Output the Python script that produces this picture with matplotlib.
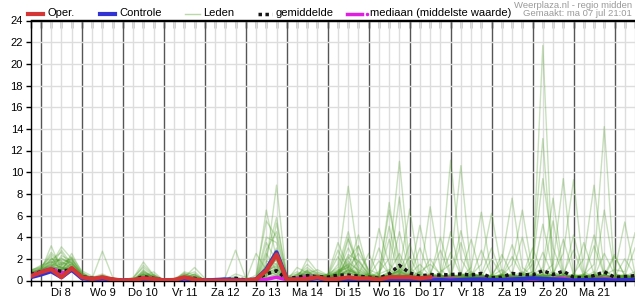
import numpy as np
import pandas as pd
import matplotlib
matplotlib.use('Agg')
import matplotlib.pyplot as plt
import matplotlib.dates as mdates
from matplotlib.lines import Line2D

plt.rcParams['font.family'] = ['Liberation Sans', 'DejaVu Sans']

# 6-uurs stappen: ma 7 jul 18:00 t/m di 22 jul 12:00
tijden = pd.date_range('2025-07-07 18:00', periods=60, freq='6h')
dag_datums = pd.date_range('2025-07-08', periods=14, freq='D')
dag_labels = ['Di 8', 'Wo 9', 'Do 10', 'Vr 11', 'Za 12', 'Zo 13', 'Ma 14',
              'Di 15', 'Wo 16', 'Do 17', 'Vr 18', 'Za 19', 'Zo 20', 'Ma 21']

# neerslag (mm) per 6 uur
oper = [0.4, 0.75, 1.05, 0.3, 1.15, 0.3, 0.15, 0.3, 0.1, 0.0,
        0.05, 0.2, 0.15, 0.02, 0.05, 0.3, 0.1, 0.0, 0.0, 0.0,
        0.0, 0.0, 0.1, 0.9, 2.4, 0.1, 0.1, 0.15, 0.3, 0.1,
        0.15, 0.3, 0.2, 0.2, 0.1, 0.3, 0.3, 0.3, 0.2, 0.3]
controle = [0.3, 0.55, 0.85, 0.3, 1.0, 0.2, 0.1, 0.2, 0.05, 0.0,
            0.0, 0.1, 0.1, 0.0, 0.0, 0.2, 0.05, 0.0, 0.05, 0.1,
            0.05, 0.0, 0.1, 1.0, 2.6, 0.1, 0.05, 0.1, 0.2, 0.05,
            0.05, 0.1, 0.1, 0.05, 0.0, 0.0, 0.05, 0.1, 0.0, 0.0,
            0.05, 0.0, 0.05, 0.1, 0.1, 0.05, 0.05, 0.1, 0.15, 0.2,
            0.15, 0.1, 0.05, 0.0, 0.05, 0.05, 0.05, 0.0, 0.05, 0.05]
gemiddelde = [0.55, 0.8, 1.0, 0.85, 1.0, 0.35, 0.2, 0.25, 0.1, 0.02,
              0.05, 0.35, 0.2, 0.02, 0.05, 0.2, 0.2, 0.02, 0.02, 0.05,
              0.2, 0.05, 0.15, 0.6, 0.9, 0.15, 0.3, 0.45, 0.35, 0.3,
              0.5, 0.5, 0.4, 0.3, 0.2, 0.6, 1.4, 0.7, 0.4, 0.55,
              0.5, 0.55, 0.6, 0.5, 0.65, 0.25, 0.3, 0.65, 0.55, 0.5,
              0.9, 0.55, 0.85, 0.3, 0.25, 0.45, 0.8, 0.3, 0.35, 0.45]
mediaan = [0.5, 0.8, 1.1, 0.7, 0.95, 0.3, 0.1, 0.15, 0.0, 0.0,
           0.0, 0.25, 0.15, 0.0, 0.0, 0.1, 0.1, 0.0, 0.0, 0.0,
           0.0, 0.0, 0.0, 0.1, 0.3, 0.05, 0.2, 0.35, 0.25, 0.15,
           0.2, 0.15, 0.1, 0.1, 0.05, 0.15, 0.2, 0.1, 0.15, 0.2,
           0.1, 0.15, 0.1, 0.05, 0.15, 0.05, 0.05, 0.15, 0.1, 0.05,
           0.1, 0.15, 0.2, 0.05, 0.05, 0.1, 0.15, 0.1, 0.05, 0.1]

leden = [
    "0.6 0.9 3.2 1.0 1.2 0.4 0.1 0.0 0.0 0.0 0.1 0.5 0.2 0.0 0.0 0.3 0.1 0.0 0.0 0.0 0.2 0.0 0.0 1.5 8.8 0.2 0.3 0.8 0.3 "
    "0.3 1.5 8.7 2.0 0.5 0.2 0.4 1.0 0.3 0.2 0.5 0.3 0.1 0.4 0.8 0.2 0.0 0.3 0.5 0.2 0.1 1.0 0.4 0.2 0.0 0.3 0.6 0.2 0.1 0.4 0.3",
    "0.8 1.0 1.5 3.1 2.0 0.5 0.2 2.7 0.3 0.0 0.0 0.2 0.1 0.0 0.0 0.1 0.0 0.0 0.0 0.0 0.0 0.0 0.1 6.5 2.0 0.1 0.5 1.2 0.5 "
    "0.5 0.8 1.2 2.5 1.0 0.6 6.5 2.0 0.4 0.8 0.3 0.2 0.5 0.3 0.2 0.6 0.1 0.2 0.4 0.8 0.3 0.5 0.2 0.6 0.2 0.1 0.4 0.9 0.3 0.2 0.5",
    "0.5 0.7 1.2 2.8 1.5 0.3 0.0 0.5 0.1 0.0 0.2 1.7 0.5 0.0 0.0 0.0 0.0 0.0 0.0 0.3 2.8 0.2 0.0 0.3 5.3 0.5 0.2 0.5 0.2 "
    "0.2 0.4 3.8 1.5 0.3 0.8 2.0 11.0 1.2 0.3 0.2 0.5 0.3 0.1 0.6 0.4 0.2 0.3 0.2 0.5 0.8 0.3 0.1 0.2 0.5 0.3 0.2 0.4 0.1 0.3 0.6",
    "0.9 1.3 2.2 0.8 2.5 0.7 0.3 0.2 0.0 0.0 0.0 0.8 0.3 0.0 0.2 0.6 0.4 0.1 0.0 0.0 0.0 0.0 2.5 1.0 0.5 0.0 0.1 2.0 0.8 "
    "0.4 2.8 1.0 0.5 0.3 4.8 1.5 0.6 0.3 5.1 0.8 0.2 0.4 0.3 1.2 6.3 0.5 0.2 0.3 0.6 0.2 0.4 0.8 0.3 0.2 0.5 0.3 0.2 0.6 0.4 0.2",
    "0.7 1.1 1.8 1.2 1.0 0.2 0.1 0.3 0.0 0.0 0.3 1.2 0.4 0.1 0.0 0.3 1.2 0.2 0.0 0.0 0.1 0.0 0.5 5.5 4.0 0.3 0.8 0.4 0.2 "
    "0.6 1.2 4.5 1.0 0.4 0.2 0.8 7.7 0.5 0.3 0.6 0.4 0.2 0.5 0.3 0.2 0.4 1.0 0.3 0.2 0.6 0.3 0.5 0.2 0.4 0.3 0.8 0.2 0.3 0.5 0.2",
    "0.4 0.6 0.9 1.4 2.2 0.9 0.4 0.1 0.2 0.0 0.0 0.4 0.8 0.0 0.0 0.8 0.5 0.0 0.0 0.1 0.6 0.3 0.0 2.2 5.8 0.2 0.1 0.3 0.4 "
    "0.3 0.6 2.0 3.2 0.8 0.3 0.5 0.9 6.6 0.4 0.3 0.2 0.6 0.3 0.4 0.2 0.5 0.3 0.6 0.2 0.4 0.3 0.2 0.5 0.3 0.6 0.2 0.4 0.3 0.2 0.4",
    "1.0 1.2 2.6 1.6 1.3 0.5 0.2 0.5 0.0 0.0 0.0 0.3 0.1 0.0 0.0 0.2 0.3 0.0 0.0 0.0 0.0 0.0 0.2 4.0 3.5 0.1 0.4 1.5 0.6 "
    "0.2 0.9 1.5 0.6 0.3 0.5 7.2 1.2 0.4 0.2 6.8 1.0 0.3 0.2 0.5 0.4 0.2 0.6 0.3 0.4 0.2 0.5 0.3 0.2 0.6 0.4 0.3 0.5 0.2 0.3 0.2",
    "0.6 0.8 1.0 2.3 1.8 0.4 0.0 0.0 0.0 0.0 0.1 0.6 0.2 0.0 0.1 0.5 0.8 0.0 0.0 0.0 0.0 0.0 0.0 0.8 2.5 0.4 0.3 0.6 1.0 "
    "0.5 0.3 2.4 1.8 0.6 0.2 0.4 0.8 0.3 0.5 0.4 4.0 0.6 0.3 0.2 0.5 0.3 0.2 0.4 0.2 0.3 0.5 0.2 0.4 0.3 0.2 0.5 0.3 0.2 0.6 0.3",
    "0.8 0.9 1.4 0.9 1.6 0.6 0.1 0.4 0.1 0.0 0.0 0.9 0.3 0.0 0.0 0.0 0.2 0.0 0.0 0.0 0.4 0.0 0.0 3.5 1.8 0.0 1.2 0.7 0.3 "
    "0.4 0.7 3.0 1.2 0.5 0.3 0.6 1.5 0.4 0.2 0.3 0.5 0.2 0.4 0.3 0.2 0.3 0.5 0.2 0.3 0.2 0.4 0.2 0.3 0.2 0.3 0.5 0.2 0.3 0.2 0.4",
    "0.5 1.0 2.0 1.8 1.1 0.3 0.2 0.1 0.0 0.0 0.0 0.2 0.6 0.0 0.0 0.4 0.1 0.0 0.0 0.0 0.0 0.0 0.3 1.2 3.0 0.2 0.2 0.2 0.5 "
    "0.3 0.5 1.8 0.8 0.4 0.6 1.0 0.5 0.3 0.8 1.5 0.6 11.1 2.0 0.4 0.3 0.2 0.5 0.3 0.2 0.4 0.3 0.6 0.2 0.3 0.4 0.2 0.5 0.3 0.2 0.4",
    "0.7 0.8 1.1 1.3 0.9 0.4 0.3 0.6 0.2 0.0 0.0 1.0 0.2 0.0 0.0 0.1 0.0 0.0 0.0 0.0 0.0 0.1 0.1 2.8 4.5 0.3 0.6 0.9 0.2 "
    "0.2 0.4 1.0 0.5 0.3 0.2 0.5 0.3 0.6 0.4 0.2 0.8 1.5 10.6 0.8 0.3 0.5 0.2 0.4 0.3 0.2 0.6 0.3 0.2 0.4 0.3 0.2 0.5 0.2 0.3 0.2",
    "0.9 1.4 1.7 1.1 1.9 0.8 0.1 0.2 0.0 0.0 0.2 0.5 0.1 0.0 0.0 0.2 0.6 0.0 0.0 0.0 0.2 0.0 0.0 0.5 2.0 0.1 0.3 1.0 0.7 "
    "0.5 0.9 1.4 0.4 0.2 0.3 0.8 2.5 0.5 0.3 0.2 0.4 0.3 0.6 0.5 1.5 6.2 0.8 0.3 0.2 0.4 0.3 0.2 0.5 0.3 0.2 0.4 0.3 0.2 0.5 0.3",
    "0.4 0.7 1.3 2.1 1.4 0.2 0.0 0.3 0.0 0.0 0.0 0.7 0.4 0.0 0.0 0.5 0.3 0.0 0.0 0.0 0.0 0.0 0.0 1.8 1.5 0.2 0.1 0.4 0.1 "
    "0.4 0.6 2.2 0.8 0.3 0.5 0.4 1.0 0.3 0.6 0.4 0.3 0.5 0.2 0.6 0.3 0.5 1.8 7.6 1.2 0.4 0.3 0.6 0.2 0.4 0.3 0.5 0.2 0.4 0.3 0.2",
    "0.6 1.1 2.4 1.5 1.2 0.5 0.2 0.1 0.1 0.0 0.0 0.3 0.2 0.0 0.0 0.0 0.1 0.0 0.0 0.0 0.0 0.0 0.0 0.6 1.2 0.0 0.5 0.6 0.4 "
    "0.3 0.5 1.6 1.0 0.4 0.3 0.6 0.8 0.3 0.2 0.5 0.3 0.2 0.4 0.3 0.5 0.3 0.4 1.5 6.5 0.8 0.3 0.5 0.2 0.3 0.6 0.2 0.3 0.4 0.2 0.3",
    "0.8 0.9 1.2 1.0 2.1 0.6 0.1 0.2 0.0 0.0 0.1 1.4 0.5 0.0 0.0 0.7 0.2 0.0 0.0 0.0 0.1 0.0 0.1 1.0 0.8 0.1 0.2 0.3 0.2 "
    "0.4 0.8 1.2 0.5 0.3 0.2 0.5 1.2 0.4 0.3 0.5 0.2 0.4 0.3 0.2 0.4 0.3 0.2 0.5 0.3 0.8 21.7 0.3 0.5 0.2 0.4 0.3 0.6 0.2 0.3 0.4",
    "0.5 0.6 0.8 0.7 1.0 0.3 0.0 0.0 0.0 0.0 0.0 0.1 0.0 0.0 0.0 0.1 0.0 0.0 0.0 0.0 0.0 0.0 0.0 0.2 0.6 0.0 0.1 0.2 0.1 "
    "0.2 0.4 0.9 0.6 0.3 0.2 0.4 0.6 0.2 0.3 0.2 0.4 0.3 0.2 0.5 0.3 0.2 0.4 0.3 0.5 2.0 13.1 0.6 0.3 0.2 0.5 0.3 0.2 0.4 0.3 0.2",
    "0.7 1.0 1.6 1.9 1.7 0.4 0.1 0.2 0.0 0.0 0.0 0.4 0.3 0.0 0.0 0.3 0.5 0.0 0.0 0.0 0.0 0.0 0.0 0.4 1.0 0.1 0.4 0.8 0.3 "
    "0.5 0.7 1.3 0.4 0.6 0.3 0.5 0.9 0.4 0.2 0.3 0.5 0.2 0.6 0.3 0.4 0.2 0.5 0.3 0.4 1.5 9.4 3.0 0.5 0.3 0.4 0.2 0.5 0.3 0.4 0.3",
    "0.6 0.8 1.9 2.6 1.2 0.5 0.3 0.1 0.1 0.0 0.0 0.6 0.2 0.0 0.1 0.2 0.1 0.0 0.0 0.0 0.3 0.0 0.0 2.5 0.9 0.2 0.3 0.5 0.6 "
    "0.3 0.6 1.1 0.7 0.2 0.4 0.3 0.5 0.2 0.4 0.3 0.2 0.5 0.3 0.2 0.4 0.3 0.6 0.2 0.3 0.5 1.2 7.6 0.8 0.3 0.2 0.5 0.3 0.2 0.4 0.3",
    "0.8 1.2 1.0 0.9 1.5 0.7 0.2 0.3 0.0 0.0 0.0 0.2 0.1 0.0 0.0 0.0 0.2 0.0 0.0 0.0 0.0 0.0 0.0 0.7 1.6 0.0 0.2 0.4 0.2 "
    "0.4 0.5 0.8 0.3 0.5 0.2 0.4 0.7 0.3 0.2 0.4 0.3 0.2 0.5 0.3 0.2 0.4 0.3 0.5 0.2 0.3 0.6 1.5 9.4 0.5 0.3 0.4 0.2 0.5 0.3 0.2",
    "0.5 0.9 1.5 1.2 0.8 0.3 0.1 0.0 0.0 0.0 0.1 0.3 0.5 0.0 0.0 0.4 0.3 0.0 0.0 0.0 0.0 0.0 0.0 0.3 0.5 0.1 0.1 0.2 0.3 "
    "0.3 0.4 1.0 0.5 0.3 0.4 0.2 0.6 0.3 0.2 0.3 0.5 0.2 0.4 0.3 0.2 0.3 0.4 0.2 0.5 0.3 0.4 0.6 2.5 9.3 0.8 0.3 0.5 0.2 0.4 0.3",
    "0.9 1.1 2.0 1.4 1.1 0.5 0.1 0.1 0.0 0.0 0.0 0.5 0.2 0.0 0.0 0.1 0.4 0.0 0.0 0.0 0.0 0.0 0.0 1.4 2.2 0.1 0.6 0.5 0.2 "
    "0.2 0.5 0.7 0.4 0.3 0.2 0.5 0.4 0.2 0.3 0.2 0.4 0.3 0.2 0.4 0.3 0.2 0.5 0.3 0.2 0.4 0.3 0.5 0.2 0.6 2.0 8.8 1.0 0.3 0.5 0.2",
    "0.6 0.7 1.1 1.6 2.0 0.6 0.2 0.2 0.0 0.0 0.0 0.8 0.3 0.0 0.0 0.6 0.2 0.0 0.0 0.0 0.0 0.0 0.0 0.9 1.3 0.0 0.2 0.9 0.5 "
    "0.3 0.6 0.9 0.3 0.2 0.4 0.3 0.5 0.2 0.3 0.4 0.2 0.3 0.5 0.2 0.3 0.4 0.2 0.3 0.2 0.5 0.3 0.2 0.4 0.3 0.5 1.5 14.2 0.6 0.3 0.4",
    "0.7 1.0 1.3 1.0 1.3 0.4 0.1 0.0 0.0 0.0 0.0 0.2 0.1 0.0 0.0 0.2 0.1 0.0 0.0 0.0 0.0 0.0 0.0 0.5 0.7 0.0 0.1 0.3 0.1 "
    "0.4 0.3 0.6 0.2 0.4 0.3 0.5 0.4 0.2 0.3 0.2 0.5 0.3 0.2 0.4 0.3 0.2 0.5 0.3 0.2 0.4 0.3 0.2 0.5 0.3 0.4 0.2 6.5 0.8 5.4 0.6",
    "0.4 0.8 1.7 2.0 1.6 0.5 0.2 0.4 0.1 0.0 0.0 0.6 0.4 0.0 0.0 0.3 0.6 0.0 0.0 0.0 0.0 0.0 0.0 1.1 1.9 0.2 0.3 0.6 0.4 "
    "0.3 0.4 0.7 0.5 0.2 0.3 0.4 0.3 0.5 0.2 0.3 0.2 0.4 0.3 0.2 0.5 0.3 0.2 0.4 0.3 0.2 0.5 0.3 0.2 0.4 0.3 0.2 0.5 1.0 0.8 4.4",
    "0.6 0.9 1.4 1.7 1.4 0.4 0.1 0.1 0.0 0.0 0.0 0.4 0.2 0.0 0.0 0.2 0.3 0.0 0.0 0.0 0.0 0.0 0.0 0.8 1.4 0.1 0.2 0.5 0.3 "
    "0.5 3.5 1.2 4.2 0.6 0.3 5.0 0.8 0.4 3.0 0.5 0.3 4.5 0.6 0.3 2.8 0.4 0.5 3.3 0.6 0.4 5.2 0.8 0.3 4.2 0.5 0.3 2.5 0.6 0.4 0.8",
    "0.5 0.8 1.1 1.2 1.0 0.3 0.1 0.0 0.0 0.0 0.0 0.3 0.1 0.0 0.0 0.1 0.2 0.0 0.0 0.0 0.0 0.0 0.0 0.6 1.1 0.0 0.2 0.4 0.2 "
    "0.3 0.8 4.0 0.6 2.5 0.4 3.8 0.5 2.2 0.3 0.6 2.8 0.4 4.6 0.5 0.3 2.0 0.4 0.6 4.0 0.3 0.6 5.5 0.4 0.3 3.5 0.6 0.3 2.2 0.5 0.3",
    "0.7 1.0 1.3 1.5 1.7 0.5 0.2 0.1 0.0 0.0 0.0 0.6 0.2 0.0 0.0 0.4 0.2 0.0 0.0 0.0 0.0 0.0 0.0 1.3 2.8 0.1 0.3 0.7 0.4 "
    "0.4 2.2 0.6 1.8 0.4 3.0 0.5 4.5 0.6 1.5 0.4 0.3 2.6 0.5 3.8 0.4 0.3 2.4 0.5 0.4 3.0 0.6 0.4 3.8 0.5 0.3 4.2 0.6 0.3 2.0 0.5",
    "0.6 0.7 1.0 1.1 1.2 0.4 0.1 0.0 0.0 0.0 0.0 0.2 0.1 0.0 0.0 0.2 0.1 0.0 0.0 0.0 0.0 0.0 0.0 0.4 0.8 0.0 0.1 0.3 0.2 "
    "0.6 1.0 0.5 3.2 0.4 1.8 0.6 0.5 3.4 0.4 2.0 0.5 0.3 3.5 0.4 0.6 3.0 0.4 2.2 0.5 0.3 2.6 0.4 0.6 2.8 0.4 3.2 0.5 2.4 0.4 3.0",
]

W, H = 635, 300


def fx(px):
    return px / W


def fy(py):
    return 1 - py / H


fig = plt.figure(figsize=(W / 100, H / 100), dpi=100)
ax = fig.add_axes([fx(30.7), fy(280.5), 1 - fx(30.7), 260 / H])

for rij in leden:
    vals = np.array(rij.split(), dtype=float)
    assert len(vals) == len(tijden), len(vals)
    ax.plot(tijden, vals, color='#4a9a22', alpha=0.3, lw=1, zorder=2)

ax.plot(tijden, mediaan, color='#e01ee0', lw=2.5, zorder=3)
ax.plot(tijden, gemiddelde, color='#151515', lw=2.5, ls=(0, (1, 1)), zorder=4)
ax.plot(tijden, controle, color='#3232d2', lw=3, zorder=5)
ax.plot(tijden[:len(oper)], oper, color='#d43535', lw=3, zorder=6)

ax.set_xlim(tijden[0], tijden[-1])
ax.set_ylim(0, 24)
ax.set_yticks(np.arange(0, 25, 2))

ax.xaxis.set_major_locator(mdates.DayLocator())
ax.xaxis.set_minor_locator(mdates.HourLocator(byhour=[0, 6, 12, 18]))
ax.xaxis.set_major_formatter(plt.NullFormatter())
ax.set_axisbelow(True)
ax.grid(which='minor', axis='x', color='#dddddd', lw=1)
ax.grid(which='major', axis='x', color='#555555', lw=1)
ax.grid(which='major', axis='y', color='#dddddd', lw=1)

ax.tick_params(axis='x', which='both', direction='out', length=3.5, width=1, color='black')
ax.tick_params(axis='y', direction='out', length=3.5, width=1, labelsize=8, pad=2)

top = ax.secondary_xaxis('top')
top.xaxis.set_major_locator(mdates.DayLocator())
top.xaxis.set_minor_locator(mdates.HourLocator(byhour=[0, 6, 12, 18]))
top.tick_params(axis='x', which='both', direction='in', length=6, width=1, labeltop=False)
top.xaxis.set_major_formatter(plt.NullFormatter())
top.spines['top'].set_linewidth(1)

ax.spines['right'].set_visible(False)
for s in ['left', 'bottom', 'top']:
    ax.spines[s].set_linewidth(1)

for d, lab in zip(dag_datums, dag_labels):
    x = mdates.date2num(d + pd.Timedelta('12h'))
    ax.annotate(lab, xy=(x, 0), xycoords=('data', 'axes fraction'),
                xytext=(0, -12), textcoords='offset pixels',
                ha='center', va='center', fontsize=8)

# legenda bovenaan
ly = fy(13.5)
legenda = [
    (28, 43, 48, 'Oper.', dict(color='#d43535', lw=3)),
    (100, 115, 119, 'Controle', dict(color='#3232d2', lw=3)),
    (185, 200, 203, 'Leden', dict(color='#b9d9a8', lw=1)),
    (258, 272, 276, 'gemiddelde', dict(color='#151515', lw=2.5, ls=(0, (1, 1)))),
    (347, 362, 370, 'mediaan (middelste waarde)', dict(color='#e01ee0', lw=2.5)),
]
for x0, x1, xt, tekst, stijl in legenda:
    fig.add_artist(Line2D([fx(x0), fx(x1)], [ly, ly], **stijl))
    fig.text(fx(xt), ly, tekst, ha='left', va='center', fontsize=8)
fig.add_artist(Line2D([fx(366.5)], [ly], marker='o', ms=1.5, color='#e01ee0', lw=0))

fig.text(fx(632), fy(5), 'Weerplaza.nl - regio midden', ha='right', va='center',
         fontsize=6.8, color='#9a9a9a')
fig.text(fx(632), fy(14), 'Gemaakt: ma 07 jul 21:01', ha='right', va='center',
         fontsize=6.8, color='#9a9a9a')

fig.savefig('out.png', dpi=100)
